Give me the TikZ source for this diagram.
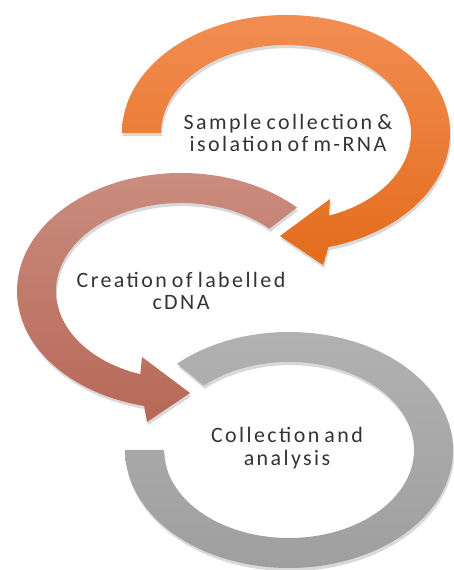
\documentclass[tikz,border=0pt]{standalone}
\usepackage{fontspec}
\setmainfont{Carlito}[LetterSpace=11,WordSpace=0.7]
\usetikzlibrary{shadows}
\definecolor{orangetop}{HTML}{F28D52}
\definecolor{orangebot}{HTML}{E46C1C}
\definecolor{rosetop}{HTML}{CB8E80}
\definecolor{rosebot}{HTML}{B76857}
\definecolor{greytop}{HTML}{B2B2B2}
\definecolor{greybot}{HTML}{9E9E9E}
\tikzset{
    band/.style={drop shadow={opacity=0.3,shadow xshift=0.6pt,shadow yshift=-1.8pt}},
    steptext/.style={align=center,text=black!80,font=\fontsize{12.5}{13}\selectfont}
}
\begin{document}
\begin{tikzpicture}[x=0.02cm,y=0.02cm]
    \useasboundingbox(0,0)rectangle(453,570);
    \coordinate(c1)at(286,437);
    \coordinate(c2)at(181,279);
    \coordinate(c3)at(289,120);

    \begin{scope}[shift={(c3)}]
        \path[band,top color=greytop,bottom color=greybot](133:164 and 118)arc[start angle=133,end angle=-180,x radius=164,y radius=118]
            --(180:125 and 88)arc[start angle=-180,end angle=133,x radius=125,y radius=88]--cycle;
    \end{scope}
    \begin{scope}[shift={(c2)}]
        \path[band,top color=rosetop,bottom color=rosebot](45:164 and 118)arc[start angle=45,end angle=257,x radius=164,y radius=118]
            --(-34,-131)--(9,-102)--(-39,-66)
            --(251:125 and 88)arc[start angle=251,end angle=45,x radius=125,y radius=88]--cycle;
    \end{scope}
    \begin{scope}[shift={(c1)}]
        \path[band,top color=orangetop,bottom color=orangebot](180:164 and 118)arc[start angle=180,end angle=-75,x radius=164,y radius=118]
            --(37,-132)--(-6,-103)--(44,-66)
            --(-70:125 and 88)arc[start angle=-70,end angle=180,x radius=125,y radius=88]--cycle;
    \end{scope}

    \node[steptext](sample)at(288,437){Sample collection \&\\isolation of m-RNA};
    \node[steptext](cdna)at(c2){Creation of labelled\\cDNA};
    \node[steptext](analysis)at(287,122){Collection and\\analysis};
\end{tikzpicture}
\end{document}
